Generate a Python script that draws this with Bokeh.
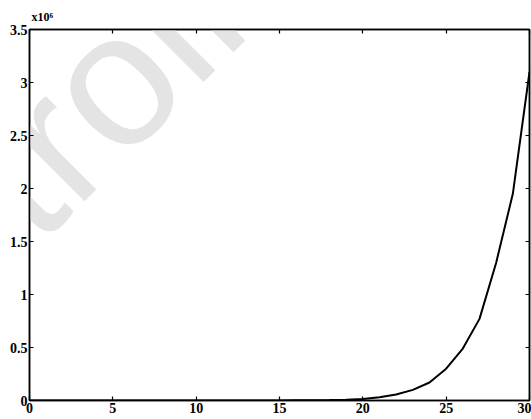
from bokeh.plotting import figure
from bokeh.models import Range1d, LinearAxis, FixedTicker, Label
from bokeh.embed import file_html
from bokeh.resources import INLINE

# data (y in units of 10^6)
x_vals = list(range(31))
y_vals = [0, 0, 0, 0, 0, 0, 0, 0, 0, 0.0001, 0.0001, 0.0002, 0.0003, 0.0004,
          0.0006, 0.0009, 0.0015, 0.0025, 0.004, 0.007, 0.015, 0.03, 0.057,
          0.1, 0.17, 0.3, 0.49, 0.77, 1.3, 1.95, 3.1]
x_ticks = [0, 5, 10, 15, 20, 25, 30]
y_ticks = [0, 0.5, 1, 1.5, 2, 2.5, 3, 3.5]
multiplier = "x10\u2076"
watermark = "trolle"

FONT = "Liberation Serif"

p = figure(width=531, height=419, output_backend="svg", toolbar_location=None,
           x_range=Range1d(0, 30), y_range=Range1d(0, 3.5),
           min_border_left=29, min_border_right=2, min_border_top=29,
           min_border_bottom=19)
p.background_fill_color = "white"
p.border_fill_color = "white"
p.outline_line_color = "black"
p.outline_line_width = 1.5
p.xgrid.visible = False
p.ygrid.visible = False

# title used as the exponent label
p.title.text = multiplier
p.title.align = "left"
p.title.offset = 2
p.title.text_font = FONT
p.title.text_font_style = "bold"
p.title.text_font_size = "12px"
p.title.text_color = "black"
p.title.standoff = 12

# watermark (underlay)
wm = Label(x=-2.3, y=1.88, text=watermark, angle=45, angle_units="deg",
           text_font="Liberation Sans", text_font_size="190px",
           text_color="#e4e4e4", text_baseline="alphabetic", level="underlay")
p.add_layout(wm)

p.line(x_vals, y_vals, line_color="black", line_width=2)

def style(ax):
    ax.axis_line_color = "black"
    ax.axis_line_width = 1.5
    ax.major_tick_in = 4
    ax.major_tick_out = 0
    ax.major_tick_line_color = "black"
    ax.major_tick_line_width = 1.2
    ax.minor_tick_line_color = None
    ax.major_label_text_font = FONT
    ax.major_label_text_font_style = "bold"
    ax.major_label_text_color = "black"
    ax.major_label_text_font_size = "14px"
    ax.major_label_standoff = 2

p.xaxis.ticker = FixedTicker(ticks=x_ticks)
p.yaxis.ticker = FixedTicker(ticks=y_ticks)
style(p.xaxis[0])
style(p.yaxis[0])

top = LinearAxis(ticker=FixedTicker(ticks=x_ticks))
style(top)
top.major_label_overrides = {t: "" for t in x_ticks}
top.major_label_standoff = 0
p.add_layout(top, "above")
right = LinearAxis(ticker=FixedTicker(ticks=y_ticks))
style(right)
right.major_label_overrides = {t: "" for t in y_ticks}
right.major_label_standoff = 0
p.add_layout(right, "right")

open("out.html", "w").write(file_html(p, INLINE))
